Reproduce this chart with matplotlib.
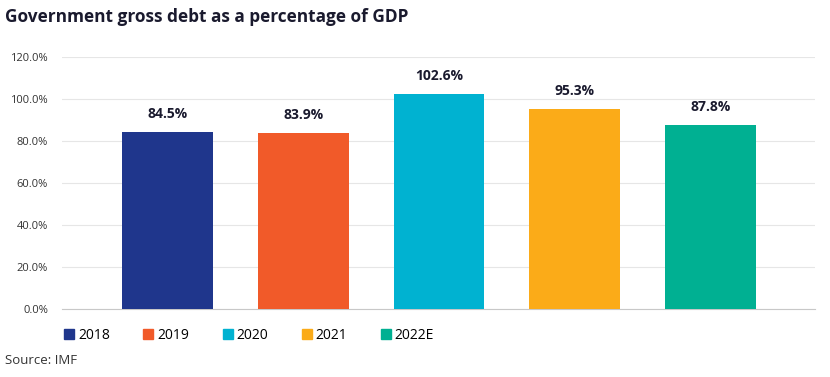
import matplotlib
matplotlib.use("Agg")
import matplotlib.pyplot as plt
from matplotlib.lines import Line2D

# Data
years = ["2018", "2019", "2020", "2021", "2022E"]
debt_pct = [84.5, 83.9, 102.6, 95.3, 87.8]
colors = ["#1f368c", "#f15a29", "#00b2d1", "#fbab18", "#00b092"]
yticks = [0, 20, 40, 60, 80, 100, 120]

plt.rcParams["font.family"] = ["Open Sans", "DejaVu Sans"]

fig = plt.figure(figsize=(8.3, 3.77), dpi=100)
ax = fig.add_axes([0.0747, 0.1804, 0.9073, 0.6684])

x = range(len(years))
ax.bar(x, debt_pct, width=0.67, color=colors, zorder=3)

for xi, v in zip(x, debt_pct):
    ax.text(xi, v + 5, f"{v:.1f}%", ha="center", va="bottom",
            fontsize=10, fontweight="bold", color="#1a1a2e")

ax.set_xlim(-0.777, 4.77)
ax.set_ylim(0, 120)
ax.set_yticks(yticks)
ax.set_yticklabels([f"{t:.1f}%" for t in yticks], fontsize=8, color="#333333")
ax.set_xticks([])
ax.grid(axis="y", color="#e6e6e6", linewidth=0.8, zorder=0)
for s in ["top", "right", "left"]:
    ax.spines[s].set_visible(False)
ax.spines["bottom"].set_color("#c8c8c8")
ax.tick_params(axis="y", length=0, pad=10)

handles = [Line2D([0], [0], marker="s", linestyle="none", markersize=7.5,
                  markerfacecolor=c, markeredgecolor=c) for c in colors]
fig.legend(handles, years, loc="center left", bbox_to_anchor=(0.061, 0.11),
           ncol=5, frameon=False, fontsize=10, handletextpad=0.2,
           columnspacing=2.3, handlelength=0.9)

fig.text(0.006, 0.955, "Government gross debt as a percentage of GDP",
         fontsize=12.4, fontweight="bold", color="#1a1a2e", va="center")
fig.text(0.006, 0.045, "Source: IMF", fontsize=9.5, color="#333333", va="center")

fig.savefig("out.png", dpi=100)
